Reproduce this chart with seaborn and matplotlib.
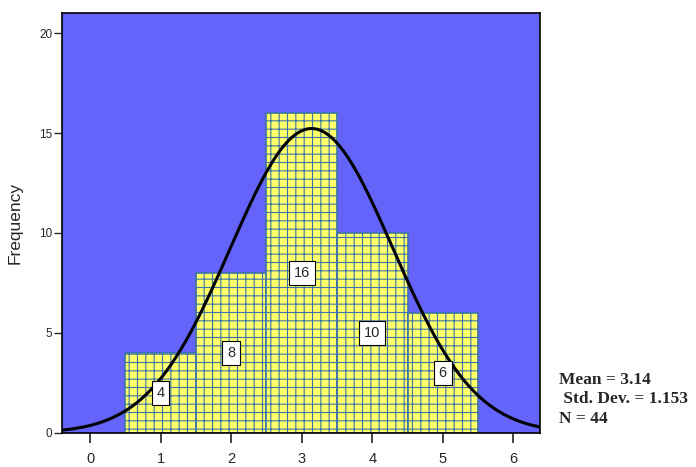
import numpy as np
import pandas as pd
import matplotlib
matplotlib.use('Agg')
import matplotlib.pyplot as plt
import seaborn as sns

# histogram data (bins of width 1 centred on 1..5)
bin_centers = [1, 2, 3, 4, 5]
counts = [4, 8, 16, 10, 6]
bin_edges = [0.5, 1.5, 2.5, 3.5, 4.5, 5.5]

# summary stats printed by SPSS
mean_val = 3.14
std_val = 1.153
n_val = 44
stats_lines = ['Mean = 3.14', ' Std. Dev. = 1.153', 'N = 44']

df = pd.DataFrame({'value': np.repeat(bin_centers, counts)})

sns.set_style('white')
plt.rcParams['font.family'] = ['Liberation Sans', 'DejaVu Sans']
plt.rcParams['hatch.linewidth'] = 0.8

fig = plt.figure(figsize=(6.96, 4.67), dpi=100)
ax = fig.add_axes([0.089, 0.073, 0.687, 0.899])
ax.set_facecolor('#6464fa')

sns.histplot(data=df, x='value', bins=bin_edges, color='#ffff6a', alpha=1,
             edgecolor='#3f74a6', linewidth=1.2, ax=ax, zorder=2)
for p in ax.patches:
    p.set_hatch('++')

# fitted normal curve
xs = np.linspace(-0.4, 6.4, 300)
ys = n_val * 1.0 / (std_val * np.sqrt(2 * np.pi)) * np.exp(-0.5 * ((xs - mean_val) / std_val) ** 2)
sns.lineplot(x=xs, y=ys, color='black', linewidth=2.2, ax=ax, zorder=3)

for c, n in zip(bin_centers, counts):
    ax.text(c, n / 2, str(n), ha='center', va='center', fontsize=10.5, zorder=5,
            bbox=dict(boxstyle='square,pad=0.32', facecolor='white', edgecolor='black', linewidth=0.8))

ax.set_xlim(-0.4, 6.38)
ax.set_ylim(0, 21)
ax.set_xticks(range(0, 7))
ax.set_yticks([0, 5, 10, 15, 20])
ax.set_xlabel('')
ax.set_ylabel('Frequency', fontsize=12.5, labelpad=12)
ax.tick_params(axis='x', length=7.5, width=1.2, labelsize=10.5, pad=6, bottom=True)
ax.tick_params(axis='y', length=6, width=1.0, labelsize=8.5, pad=1, left=True)
for s in ax.spines.values():
    s.set_color('black')
    s.set_linewidth(1.2)

fig.text(0.803, 0.145, '\n'.join(stats_lines), family=['Liberation Serif'],
         fontweight='bold', fontsize=12.5, va='center', ha='left', linespacing=1.3)

fig.savefig('out.png', dpi=100)
